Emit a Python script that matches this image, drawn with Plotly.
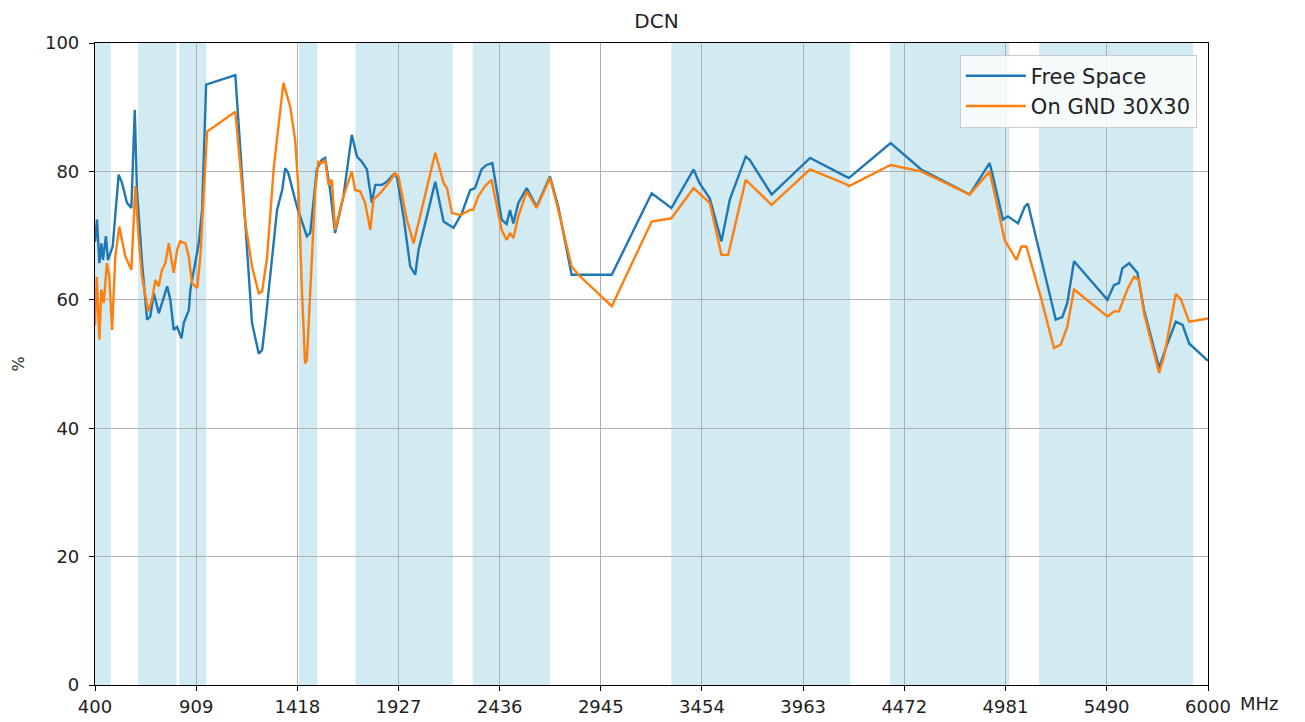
import plotly.graph_objects as go

# measured efficiency, free space
fs_mhz = [400, 410, 422, 432, 440, 455, 465, 477, 489, 519, 536, 561, 583, 600, 611, 637, 662, 678,
          696, 721, 737, 763, 779, 796, 813, 835, 847, 872, 880, 905, 922, 939, 959, 1106, 1190,
          1224, 1241, 1257, 1291, 1316, 1342, 1357, 1373, 1416, 1466, 1483, 1516, 1541, 1558, 1583,
          1608, 1650, 1692, 1718, 1743, 1768, 1793, 1810, 1844, 1869, 1902, 1919, 1952, 1986, 2011,
          2028, 2070, 2112, 2154, 2204, 2246, 2288, 2312, 2345, 2370, 2399, 2446, 2471, 2488, 2505,
          2530, 2572, 2622, 2689, 2731, 2798, 3000, 3201, 3300, 3412, 3441, 3493, 3552, 3594, 3674,
          3694, 3804, 3998, 4179, 4194, 4403, 4557, 4801, 4901, 4916, 4968, 4993, 5044, 5078, 5094,
          5158, 5234, 5267, 5292, 5326, 5494, 5527, 5552, 5569, 5603, 5645, 5678, 5754, 5796, 5838,
          5872, 5905, 6000]
fs_pct = [69.0, 72.5, 65.7, 68.8, 66.2, 69.9, 66.2, 67.3, 68.3, 79.5, 78.2, 75.1, 74.3, 89.6, 77.1,
          65.7, 56.9, 57.4, 61.0, 57.9, 59.5, 62.1, 60.0, 55.3, 55.8, 54.0, 56.4, 58.4, 61.6, 66.2,
          68.8, 74.0, 93.5, 95.0, 56.4, 51.6, 52.2, 56.4, 66.7, 74.0, 77.1, 80.5, 79.7, 74.5, 69.9,
          70.4, 80.3, 81.8, 82.1, 77.1, 70.4, 76.1, 85.7, 82.3, 81.5, 80.3, 75.1, 77.9, 77.9, 78.4,
          79.5, 79.2, 73.0, 65.2, 63.9, 67.8, 73.0, 78.4, 72.2, 71.2, 73.5, 77.1, 77.4, 80.3, 81.0,
          81.3, 72.5, 71.8, 74.0, 71.9, 75.1, 77.4, 74.5, 79.2, 74.5, 63.9, 63.9, 76.6, 74.3, 80.3,
          78.2, 75.8, 69.1, 75.6, 82.3, 81.8, 76.4, 82.1, 79.2, 79.0, 84.4, 80.3, 76.4, 81.3, 79.5,
          72.5, 73.0, 71.9, 74.5, 75.0, 66.7, 56.9, 57.3, 59.5, 66.0, 60.0, 62.3, 62.6, 64.9, 65.7,
          64.2, 58.4, 49.4, 53.2, 56.6, 56.1, 53.2, 50.5]

# measured efficiency, on 30x30 ground
gnd_mhz = [400, 409, 422, 432, 444, 460, 472, 486, 502, 522, 553, 583, 603, 620, 637, 667, 687, 704,
           721, 737, 754, 771, 796, 813, 829, 855, 872, 888, 914, 930, 964, 1106, 1157, 1190, 1224,
           1241, 1266, 1300, 1348, 1382, 1407, 1424, 1441, 1457, 1466, 1483, 1508, 1524, 1541, 1558,
           1575, 1592, 1608, 1650, 1692, 1709, 1734, 1759, 1785, 1801, 1835, 1877, 1910, 1927, 1969,
           2003, 2036, 2112, 2154, 2171, 2196, 2238, 2288, 2303, 2328, 2362, 2395, 2446, 2471, 2488,
           2505, 2530, 2572, 2622, 2689, 2731, 2798, 2832, 3000, 3201, 3300, 3412, 3493, 3552, 3586,
           3674, 3804, 3998, 4179, 4194, 4403, 4557, 4801, 4901, 4926, 4977, 5036, 5061, 5086, 5158,
           5225, 5259, 5292, 5326, 5494, 5527, 5552, 5594, 5628, 5653, 5678, 5754, 5779, 5838, 5863,
           5905, 6000]
gnd_pct = [56.0, 63.6, 53.8, 61.6, 59.5, 65.7, 63.6, 55.3, 66.7, 71.4, 66.7, 64.7, 77.7, 69.3, 63.6,
           58.2, 60.0, 63.1, 62.1, 64.7, 65.7, 68.8, 64.2, 67.8, 69.1, 68.8, 66.7, 62.6, 61.8, 66.7,
           86.2, 89.3, 71.9, 65.2, 61.0, 61.3, 66.7, 80.8, 93.8, 90.1, 84.9, 77.1, 61.6, 50.1, 50.6,
           60.5, 77.1, 81.5, 81.3, 81.8, 77.9, 78.7, 70.9, 76.1, 80.0, 77.1, 76.9, 75.1, 70.9, 75.6,
           76.6, 78.2, 79.7, 79.2, 72.5, 68.8, 73.0, 82.9, 78.2, 77.4, 73.5, 73.2, 74.0, 74.0, 76.1,
           77.7, 78.7, 70.9, 69.3, 70.4, 69.6, 73.0, 76.9, 74.3, 79.0, 74.0, 65.2, 63.9, 59.0, 72.2,
           72.7, 77.4, 75.1, 67.0, 67.0, 78.7, 74.8, 80.3, 78.0, 77.7, 81.0, 80.0, 76.4, 80.0, 76.6,
           69.3, 66.2, 68.3, 68.3, 60.5, 52.5, 53.0, 55.8, 61.6, 57.4, 58.2, 58.2, 61.6, 63.6, 63.1,
           57.9, 48.6, 51.2, 60.9, 60.1, 56.6, 57.1]

# cellular bands highlighted behind the curves (MHz)
band_lo = [400, 617, 824, 1427, 1710, 2300, 3300, 4400, 5150]
band_hi = [480, 810, 960, 1518, 2200, 2690, 4200, 5000, 5925]

x_ticks = [400, 909, 1418, 1927, 2436, 2945, 3454, 3963, 4472, 4981, 5490, 6000]
y_ticks = [0, 20, 40, 60, 80, 100]

fig = go.Figure()
fig.add_trace(go.Scatter(x=fs_mhz, y=fs_pct, mode="lines", name="Free Space",
                         line=dict(color="#1f77b4", width=2.4)))
fig.add_trace(go.Scatter(x=gnd_mhz, y=gnd_pct, mode="lines", name="On GND 30X30",
                         line=dict(color="#ff7f0e", width=2.4)))

for lo, hi in zip(band_lo, band_hi):
    fig.add_vrect(x0=lo, x1=hi, fillcolor="rgba(173,216,230,0.55)", line_width=0, layer="below")

# unit label sits to the right of the last tick label
fig.add_annotation(text="MHz", xref="paper", yref="paper", x=1, y=0, xanchor="left",
                   yanchor="middle", xshift=30, yshift=-18, showarrow=False,
                   font=dict(size=18, color="#222"))

axis_style = dict(showline=True, linecolor="black", linewidth=1.2, mirror=True,
                  showgrid=True, gridcolor="#b0b0b0", gridwidth=1, automargin=False,
                  ticks="outside", ticklen=5, tickcolor="black", zeroline=False,
                  tickfont=dict(size=18, color="#222"))

fig.update_xaxes(range=[400, 6000], tickvals=x_ticks, ticktext=[str(v) for v in x_ticks],
                 ticklabelstandoff=0, **axis_style)
fig.update_yaxes(range=[0, 100], tickvals=y_ticks, ticklabelstandoff=6,
                 title=dict(text="%", standoff=16, font=dict(size=16, color="#222")),
                 **axis_style)

fig.update_layout(
    title=dict(text="DCN", x=0.5, xanchor="center", y=0.992, yanchor="top",
               font=dict(size=20, color="#222")),
    width=1297, height=714,
    margin=dict(l=87, r=97, t=35, b=37),
    plot_bgcolor="white", paper_bgcolor="white",
    font=dict(family="DejaVu Sans"),
    legend=dict(x=0.99, y=0.982, xanchor="right", yanchor="top", itemwidth=60,
                bgcolor="rgba(255,255,255,0.8)", bordercolor="#cccccc", borderwidth=1,
                font=dict(size=21, color="#222")),
)

fig.write_html("out.html")
